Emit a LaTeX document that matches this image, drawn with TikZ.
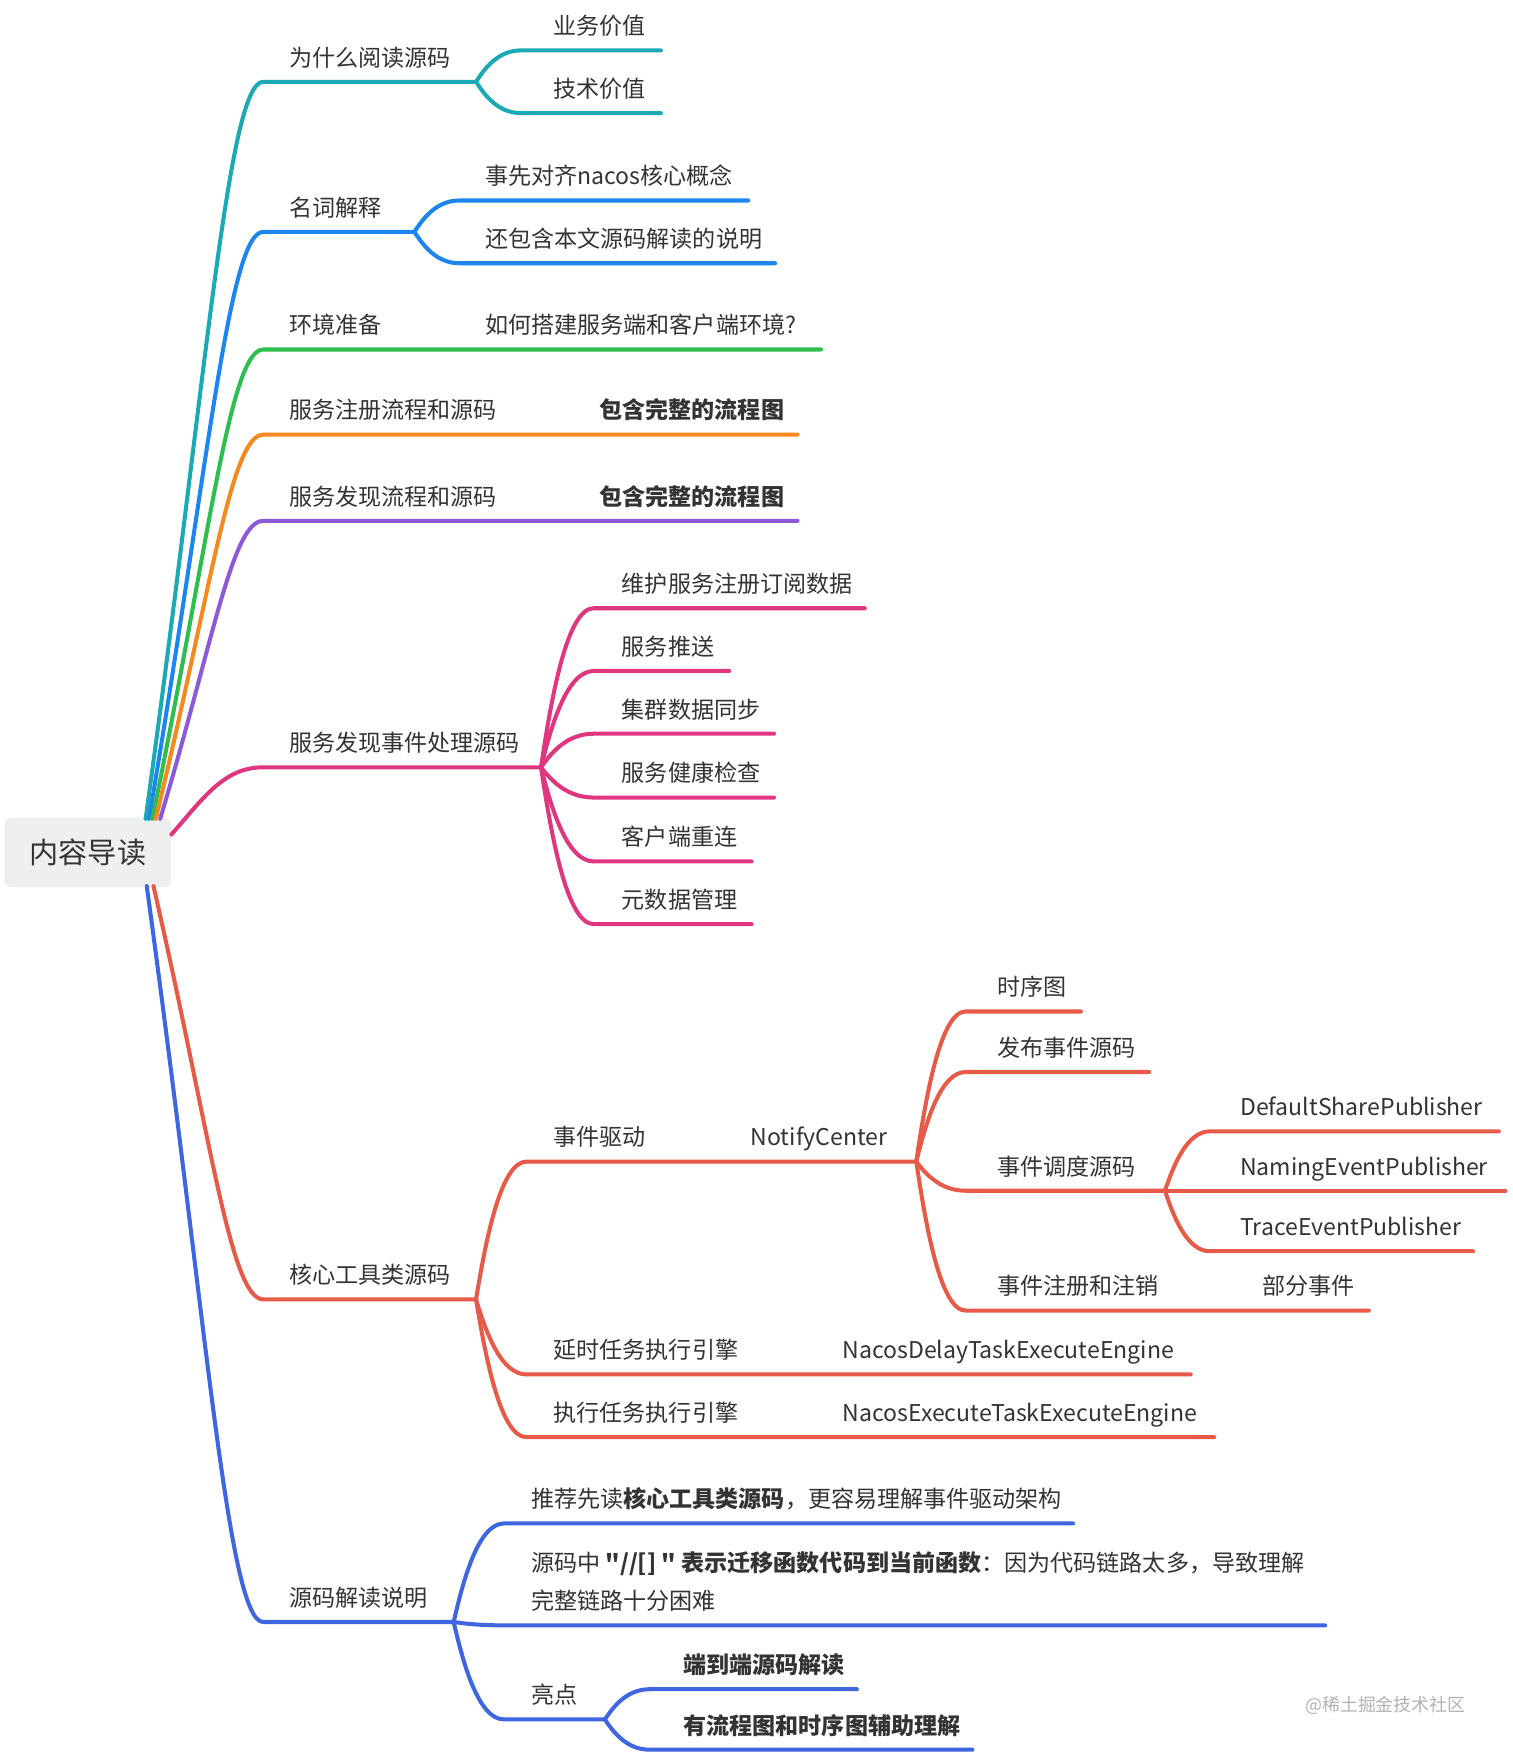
\documentclass[tikz,border=0pt]{standalone}
\usepackage{fontspec}
\setmainfont{Noto Sans CJK SC}[Ligatures=TeXOff]
\usetikzlibrary{calc}
\definecolor{cteal}{HTML}{1BA9B5}
\definecolor{cblue}{HTML}{1C86EE}
\definecolor{cgreen}{HTML}{2CBF4D}
\definecolor{corange}{HTML}{F5881F}
\definecolor{cpurple}{HTML}{8C5AD9}
\definecolor{cpink}{HTML}{E0357F}
\definecolor{cred}{HTML}{E85A48}
\definecolor{cblueb}{HTML}{3D66E0}
\definecolor{ctext}{HTML}{333333}
\definecolor{croot}{HTML}{EEF0F0}
\newcommand\mainbranch[4]{%
  \draw[br,#1] let \p1=(#2), \p2=(#3) in (\p1) .. controls ({\x1+0.52*(\x2-\x1)},{\y1+0.6*(\y2-\y1)}) and ({\x1+0.7*(\x2-\x1)},\y2) .. (\p2) -- (#4);}
\newcommand\subbranch[4]{%
  \draw[br,#1] let \p1=(#2), \p2=(#3) in (\p1) .. controls ({\x1+0.2*(\x2-\x1)},{\y1+0.45*(\y2-\y1)}) and ({\x1+0.5*(\x2-\x1)},\y2) .. (\p2) -- (#4);}
\newcommand\dq{\symbol{34}}
\tikzset{
  br/.style={line width=3.6pt, line cap=round},
  lbl/.style={anchor=base west, inner sep=0pt, text=ctext, font=\fontsize{20.6}{24}\selectfont},
  blbl/.style={lbl, font=\fontsize{20.6}{24}\selectfont\bfseries},
  rootbox/.style={fill=croot, rounded corners=6pt, minimum width=149pt, minimum height=62pt, inner sep=0pt, text=ctext, font=\fontsize{26}{30}\selectfont}
}
\begin{document}
\begin{tikzpicture}[x=1pt,y=-1pt]
\useasboundingbox (0,0) rectangle (1350,1573);
% root
\node[rootbox] (root) at (78.5,761) {内容导读};
% start points on root
\coordinate (s1) at (130,731);
\coordinate (s2) at (133,731);
\coordinate (s3) at (136,731);
\coordinate (s4) at (139,731);
\coordinate (s5) at (143,731);
\coordinate (s6) at (153,745);
\coordinate (s7) at (137,791);
\coordinate (s8) at (131,791);

% ---------- branch 1: teal
\coordinate (b1a) at (235,73); \coordinate (b1b) at (425,73);
\mainbranch{cteal}{s1}{b1a}{b1b}
\node[lbl] (t1) at (258,59) {为什么阅读源码};
\coordinate (c11a) at (465,45); \coordinate (c11b) at (590,45);
\coordinate (c12a) at (465,101); \coordinate (c12b) at (590,101);
\subbranch{cteal}{b1b}{c11a}{c11b}
\subbranch{cteal}{b1b}{c12a}{c12b}
\node[lbl] (t11) at (494,31) {业务价值};
\node[lbl] (t12) at (494,87) {技术价值};

% ---------- branch 2: blue
\coordinate (b2a) at (235,207); \coordinate (b2b) at (370,207);
\mainbranch{cblue}{s2}{b2a}{b2b}
\node[lbl] (t2) at (258,193) {名词解释};
\coordinate (c21a) at (410,179); \coordinate (c21b) at (668,179);
\coordinate (c22a) at (410,235); \coordinate (c22b) at (692,235);
\subbranch{cblue}{b2b}{c21a}{c21b}
\subbranch{cblue}{b2b}{c22a}{c22b}
\node[lbl] (t21) at (433,165) {事先对齐nacos核心概念};
\node[lbl] (t22) at (433,221) {还包含本文源码解读的说明};

% ---------- branch 3: green
\coordinate (b3a) at (235,312); \coordinate (b3b) at (733,312);
\mainbranch{cgreen}{s3}{b3a}{b3b}
\node[lbl] (t3) at (258,298) {环境准备};
\node[lbl] (t31) at (433,298) {如何搭建服务端和客户端环境?};

% ---------- branch 4: orange
\coordinate (b4a) at (235,388); \coordinate (b4b) at (712,388);
\mainbranch{corange}{s4}{b4a}{b4b}
\node[lbl] (t4) at (258,374) {服务注册流程和源码};
\node[blbl] (t41) at (535,374) {包含完整的流程图};

% ---------- branch 5: purple
\coordinate (b5a) at (235,465); \coordinate (b5b) at (712,465);
\mainbranch{cpurple}{s5}{b5a}{b5b}
\node[lbl] (t5) at (258,451) {服务发现流程和源码};
\node[blbl] (t51) at (535,451) {包含完整的流程图};

% ---------- branch 6: pink
\coordinate (b6a) at (235,685); \coordinate (b6b) at (483,685);
\draw[br,cpink] (s6) .. controls (182,712) and (200,685) .. (b6a) -- (b6b);
\node[lbl] (t6) at (258,671) {服务发现事件处理源码};
\coordinate (c61a) at (530,543); \coordinate (c61b) at (772,543);
\coordinate (c62a) at (530,599); \coordinate (c62b) at (651,599);
\coordinate (c63a) at (530,655); \coordinate (c63b) at (691,655);
\coordinate (c64a) at (530,712); \coordinate (c64b) at (691,712);
\coordinate (c65a) at (530,769); \coordinate (c65b) at (671,769);
\coordinate (c66a) at (530,825); \coordinate (c66b) at (671,825);
\foreach \i in {1,...,6}{\subbranch{cpink}{b6b}{c6\i a}{c6\i b}}
\node[lbl] (t61) at (555,529) {维护服务注册订阅数据};
\node[lbl] (t62) at (555,585) {服务推送};
\node[lbl] (t63) at (555,641) {集群数据同步};
\node[lbl] (t64) at (555,698) {服务健康检查};
\node[lbl] (t65) at (555,755) {客户端重连};
\node[lbl] (t66) at (555,811) {元数据管理};

% ---------- branch 7: red
\coordinate (b7a) at (235,1160); \coordinate (b7b) at (425,1160);
\mainbranch{cred}{s7}{b7a}{b7b}
\node[lbl] (t7) at (258,1146) {核心工具类源码};
\coordinate (c71a) at (470,1037); \coordinate (c71b) at (818,1037);
\coordinate (c72a) at (470,1227); \coordinate (c72b) at (1063,1227);
\coordinate (c73a) at (470,1283); \coordinate (c73b) at (1084,1283);
\subbranch{cred}{b7b}{c71a}{c71b}
\subbranch{cred}{b7b}{c72a}{c72b}
\subbranch{cred}{b7b}{c73a}{c73b}
\node[lbl] (t71) at (494,1023) {事件驱动};
\node[lbl] (t71n) at (670,1023) {NotifyCenter};
\node[lbl] (t72) at (494,1213) {延时任务执行引擎};
\node[lbl] (t72n) at (752,1213) {NacosDelayTaskExecuteEngine};
\node[lbl] (t73) at (494,1269) {执行任务执行引擎};
\node[lbl] (t73n) at (752,1269) {NacosExecuteTaskExecuteEngine};
% NotifyCenter children
\coordinate (d1a) at (862,903); \coordinate (d1b) at (965,903);
\coordinate (d2a) at (862,957); \coordinate (d2b) at (1026,957);
\coordinate (d3a) at (862,1063); \coordinate (d3b) at (1040,1063);
\coordinate (d4a) at (862,1170); \coordinate (d4b) at (1222,1170);
\subbranch{cred}{c71b}{d1a}{d1b}
\subbranch{cred}{c71b}{d2a}{d2b}
\subbranch{cred}{c71b}{d3a}{d3b}
\subbranch{cred}{c71b}{d4a}{d4b}
\node[lbl] (u1) at (890,889) {时序图};
\node[lbl] (u2) at (890,943) {发布事件源码};
\node[lbl] (u3) at (890,1049) {事件调度源码};
\node[lbl] (u4) at (890,1156) {事件注册和注销};
\node[lbl] (u4n) at (1127,1156) {部分事件};
% publishers
\coordinate (e1a) at (1080,1010); \coordinate (e1b) at (1338,1010);
\coordinate (e2a) at (1080,1063); \coordinate (e2b) at (1344,1063);
\coordinate (e3a) at (1080,1117); \coordinate (e3b) at (1315,1117);
\subbranch{cred}{d3b}{e1a}{e1b}
\subbranch{cred}{d3b}{e2a}{e2b}
\subbranch{cred}{d3b}{e3a}{e3b}
\node[lbl] (v1) at (1107,996) {DefaultSharePublisher};
\node[lbl] (v2) at (1107,1049) {NamingEventPublisher};
\node[lbl] (v3) at (1107,1103) {TraceEventPublisher};

% ---------- branch 8: blue
\coordinate (b8a) at (235,1448); \coordinate (b8b) at (405,1448);
\mainbranch{cblueb}{s8}{b8a}{b8b}
\node[lbl] (t8) at (258,1434) {源码解读说明};
\coordinate (c81a) at (450,1360); \coordinate (c81b) at (958,1360);
\coordinate (c82a) at (450,1451); \coordinate (c82b) at (1183,1451);
\coordinate (c83a) at (450,1535); \coordinate (c83b) at (540,1535);
\subbranch{cblueb}{b8b}{c81a}{c81b}
\subbranch{cblueb}{b8b}{c82a}{c82b}
\subbranch{cblueb}{b8b}{c83a}{c83b}
\node[lbl] (t81) at (474,1346) {推荐先读\textbf{核心工具类源码}，更容易理解事件驱动架构};
\node[lbl] (t82) at (474,1403) {源码中 \textbf{\dq//[] \dq{} 表示迁移函数代码到当前函数}：因为代码链路太多，导致理解};
\node[lbl] (t82b) at (474,1437) {完整链路十分困难};
\node[lbl] (t83) at (474,1521) {亮点};
\coordinate (f1a) at (580,1508); \coordinate (f1b) at (765,1508);
\coordinate (f2a) at (580,1562); \coordinate (f2b) at (868,1562);
\subbranch{cblueb}{c83b}{f1a}{f1b}
\subbranch{cblueb}{c83b}{f2a}{f2b}
\node[blbl] (g1) at (610,1494) {端到端源码解读};
\node[blbl] (g2) at (610,1548) {有流程图和时序图辅助理解};

% watermark
\node[anchor=base west, inner sep=0pt, text=black!30, font=\fontsize{16}{18}\selectfont] (wm) at (1165,1528) {@稀土掘金技术社区};
\end{tikzpicture}
\end{document}
